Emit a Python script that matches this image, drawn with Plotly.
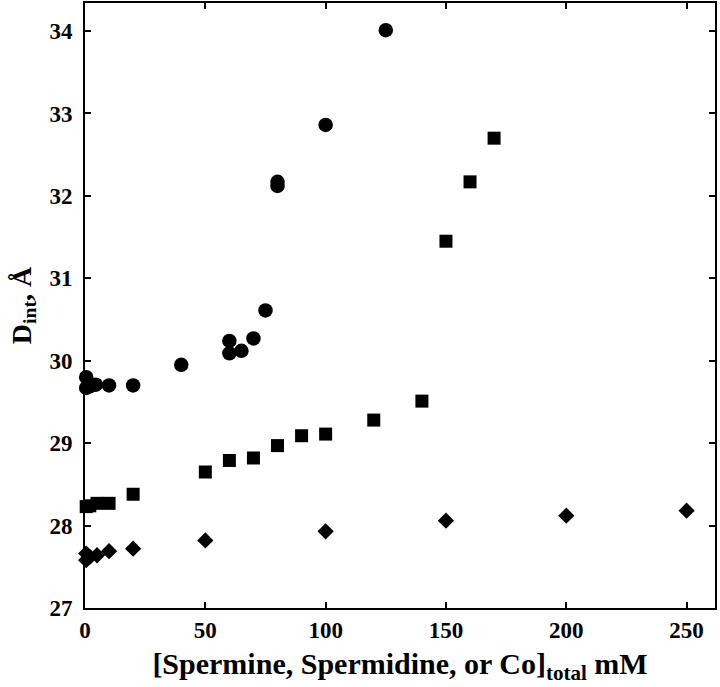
import plotly.graph_objects as go

# Circles
circ_x = [0.5, 0.5, 2, 4.5, 10, 20, 40, 60, 60, 65, 70, 75, 80, 80, 100, 125]
circ_y = [29.80, 29.67, 29.69, 29.71, 29.70, 29.70, 29.95, 30.24, 30.09, 30.12, 30.27, 30.61, 32.12, 32.17, 32.86, 34.01]

# Squares
sq_x = [0.5, 2, 5, 10, 20, 50, 60, 70, 80, 90, 100, 120, 140, 150, 160, 170]
sq_y = [28.23, 28.24, 28.27, 28.27, 28.38, 28.65, 28.79, 28.82, 28.97, 29.09, 29.11, 29.28, 29.51, 31.45, 32.17, 32.70]

# Diamonds
dia_x = [0.5, 0.5, 2, 5, 10, 20, 50, 100, 150, 200, 250]
dia_y = [27.58, 27.66, 27.62, 27.64, 27.69, 27.72, 27.82, 27.93, 28.06, 28.12, 28.18]

x_ticks = [0, 50, 100, 150, 200, 250]
y_ticks = [27, 28, 29, 30, 31, 32, 33, 34]

FONT = "Liberation Serif"

fig = go.Figure()
fig.add_trace(go.Scatter(x=circ_x, y=circ_y, mode="markers", cliponaxis=False,
                         marker=dict(symbol="circle", size=14.5, color="black")))
fig.add_trace(go.Scatter(x=sq_x, y=sq_y, mode="markers", cliponaxis=False,
                         marker=dict(symbol="square", size=13, color="black")))
fig.add_trace(go.Scatter(x=dia_x, y=dia_y, mode="markers", cliponaxis=False,
                         marker=dict(symbol="diamond", size=12.5, color="black")))

axis_common = dict(showgrid=False, zeroline=False, showline=True, linecolor="black",
                   linewidth=2, mirror="ticks", ticks="inside", ticklen=6, tickwidth=2,
                   tickcolor="black", automargin=False,
                   tickfont=dict(family=FONT, size=23, color="black", weight="bold"))

fig.update_xaxes(range=[0, 261.8], tickvals=x_ticks, ticktext=[str(v) for v in x_ticks],
                 title=dict(text="<b>[Spermine, Spermidine, or Co]<sub>total</sub> mM</b>",
                            font=dict(family=FONT, size=30, color="black"), standoff=11),
                 **axis_common)
fig.update_yaxes(range=[27, 34.34], tickvals=y_ticks, ticktext=[str(v) for v in y_ticks],
                 title=dict(text="<b>D<sub>int</sub>, Å</b>",
                            font=dict(family=FONT, size=28, color="black"), standoff=10),
                 ticklabelstandoff=6,
                 **axis_common)

fig.update_layout(width=720, height=687, showlegend=False,
                  plot_bgcolor="white", paper_bgcolor="white",
                  margin=dict(l=85, r=5, t=3, b=79))

fig.write_html("out.html", config={"displayModeBar": False},
               post_script="document.body.style.margin='0';document.body.style.overflow='hidden';")
